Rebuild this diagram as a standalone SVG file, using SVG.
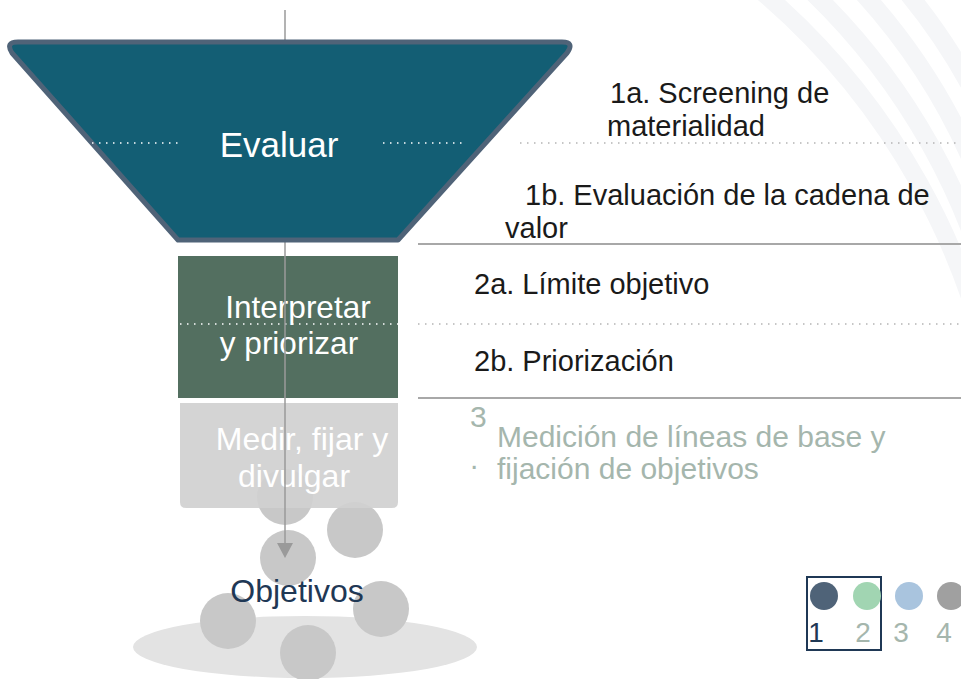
<svg xmlns="http://www.w3.org/2000/svg" width="961" height="679" viewBox="0 0 961 679">
<style>
.t{font-family:"Liberation Sans",Arial,sans-serif}
.w{fill:#ffffff}
.r{fill:#1a1a1a;font-size:29px}
.g{fill:#a5b6ad;font-size:30px}
.ball{fill:#c8c8c8}
.dotw{stroke:#ffffff;stroke-width:1.5;stroke-dasharray:1.5 5.5;fill:none}
.dotg{stroke:#b4b4b4;stroke-width:1.5;stroke-dasharray:1.5 5.5;fill:none}
.sep{stroke:#a8a8a8;stroke-width:2;fill:none}
.arc{fill:none;stroke:#f5f6f8;stroke-width:18}
</style>
<defs>
<clipPath id="bgclip"><rect x="640" y="0" width="321" height="480"/></clipPath>
</defs>
<rect width="961" height="679" fill="#ffffff"/>
<g id="background" clip-path="url(#bgclip)">
<path class="arc" d="M760,-10 A700,700 0 0 1 1000,420"/>
<path class="arc" d="M810,-10 A660,660 0 0 1 1000,330"/>
<path class="arc" d="M860,-10 A620,620 0 0 1 1000,240"/>
<path class="arc" d="M905,-10 A580,580 0 0 1 1000,150"/>
</g>
<g id="base">
<ellipse cx="305" cy="647" rx="172" ry="31" fill="#e3e3e3"/>
<circle class="ball" cx="285" cy="497" r="28"/>
<circle class="ball" cx="355" cy="530" r="28"/>
<circle class="ball" cx="288" cy="558" r="28"/>
<circle class="ball" cx="228" cy="621" r="28"/>
<circle class="ball" cx="381" cy="609" r="28"/>
<circle class="ball" cx="308" cy="653" r="28"/>
</g>
<g id="interpretar">
<rect x="178" y="256" width="220" height="142" fill="#536f60"/>
<line class="dotw" x1="180" y1="324" x2="398" y2="324"/>
<text class="t w" x="298" y="318" font-size="31.5" text-anchor="middle">Interpretar</text>
<text class="t w" x="289" y="354" font-size="31.5" text-anchor="middle">y priorizar</text>
</g>
<g id="medir">
<path d="M180,403 H398 V502 Q398,508 392,508 H186 Q180,508 180,502 Z" fill="#d0d0d0" fill-opacity="0.92"/>
<text class="t w" x="302" y="450" font-size="32" text-anchor="middle">Medir, fijar y</text>
<text class="t w" x="294" y="487" font-size="32" text-anchor="middle">divulgar</text>
</g>
<g id="connectors">
<line x1="285" y1="10" x2="285" y2="545" stroke="#9a9a9a" stroke-width="1.5"/>
<polygon points="277,543 293,543 285,558" fill="#9a9a9a"/>
<line class="sep" x1="418" y1="244" x2="961" y2="244"/>
<line class="sep" x1="418" y1="398" x2="961" y2="398"/>
<line class="dotg" x1="520" y1="143" x2="961" y2="143"/>
<line class="dotg" x1="418" y1="324" x2="961" y2="324"/>
</g>
<g id="evaluar">
<path d="M18,42 L562,42 Q575,42 567,53 L398,240 L178,240 L12,53 Q5,42 18,42 Z" fill="#135e74" stroke="#4f6378" stroke-width="5" stroke-linejoin="round"/>
<line class="dotw" x1="92" y1="143" x2="182" y2="143"/>
<line class="dotw" x1="383" y1="143" x2="462" y2="143"/>
<text class="t w" x="279" y="157" font-size="35" text-anchor="middle">Evaluar</text>
</g>
<g id="labels">
<text class="t r" x="610" y="103">1a. Screening de</text>
<text class="t r" x="607" y="136">materialidad</text>
<text class="t r" x="525" y="205">1b. Evaluación de la cadena de</text>
<text class="t r" x="505" y="238">valor</text>
<text class="t r" x="474" y="294">2a. Límite objetivo</text>
<text class="t r" x="474" y="371">2b. Priorización</text>
<text class="t g" x="470" y="427" font-size="22">3</text>
<text class="t g" x="470" y="469" font-size="22">.</text>
<text class="t g" x="497" y="447">Medición de líneas de base y</text>
<text class="t g" x="497" y="479">fijación de objetivos</text>
</g>
<g id="objetivos">
<text class="t" x="297" y="602" font-size="32" fill="#1f3855" text-anchor="middle">Objetivos</text>
</g>
<g id="legend">
<rect x="807" y="577" width="74" height="73" fill="none" stroke="#1f3855" stroke-width="2"/>
<circle cx="824" cy="596" r="14" fill="#4f6378"/>
<circle cx="867" cy="596" r="14" fill="#a1d5b2"/>
<circle cx="909" cy="596" r="14" fill="#a9c4de"/>
<circle cx="951" cy="596" r="14" fill="#a0a0a0"/>
<text class="t" x="816" y="642" font-size="28" fill="#1f3855" text-anchor="middle">1</text>
<text class="t" x="863" y="642" font-size="28" fill="#a5b6ad" text-anchor="middle">2</text>
<text class="t" x="901" y="642" font-size="28" fill="#a5b6ad" text-anchor="middle">3</text>
<text class="t" x="944" y="642" font-size="28" fill="#a5b6ad" text-anchor="middle">4</text>
</g>
</svg>
